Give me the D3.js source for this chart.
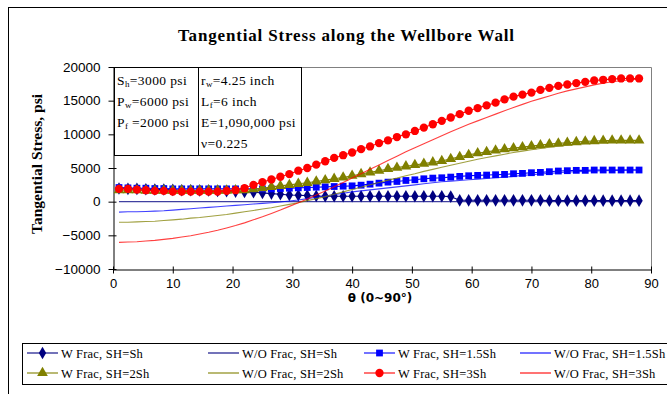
<!DOCTYPE html>
<html>
<head>
<meta charset="utf-8">
<script src="https://cdn.jsdelivr.net/npm/d3@7"></script>
<style>
  body { margin: 0; background: #fff; }
  svg { display: block; }
</style>
</head>
<body>
<div id="chart"></div>
<script>
// theta in degrees, stress in psi
const theta = [1,2.5,4,5.5,7,8.5,10,11.5,13,14.5,16,17.5,19,20.5,22,23.5,25,26.5,28,29.5,31,32.5,34,35.5,37,38.5,40,41.5,43,44.5,46,47.5,49,50.5,52,53.5,55,56.5,58,59.5,61,62.5,64,65.5,67,68.5,70,71.5,73,74.5,76,77.5,79,80.5,82,83.5,85,86.5,88];

const wFracSh = [1950,1900,1900,1850,1800,1800,1750,1700,1700,1650, 1650,1600,1550,1500,1450,1400,1300,1200,1100,1000, 950,900,850,800,800,800,800,800,800,800, 800,800,800,800,800,800,800,750,200,200, 200,200,200,200,200,200,200,200,150,150, 150,150,150,150,150,150,150,150,150];
const woFracSh = [0,0,0,0,0,0,0,0,0,0, 0,0,0,0,0,0,0,0,0,0, 0,0,0,0,0,0,0,0,0,0, 0,0,0,0,0,0,0,0,0,0, 0,0,0,0,0,0,0,0,0,0, 0,0,0,0,0,0,0,0,0];
const wFrac15 = [2100,2050,2000,2000,1950,1950,1900,1900,1900,1900, 1900,1900,1900,1900,1900,1900,1900,1900,1950,2000, 2050,2100,2150,2200,2250,2300,2350,2450,2600,2750, 2900,3000,3150,3250,3400,3500,3550,3650,3750,3850, 3900,3950,4000,4050,4150,4200,4300,4350,4450,4550, 4600,4650,4650,4700,4700,4700,4700,4700,4700];
const woFrac15 = [-1550,-1500,-1500,-1450,-1400,-1350,-1250,-1150,-1050,-950, -850,-750,-650,-550,-450,-350,-250,-150,-50,100, 250,450,650,850,1050,1250,1450,1600,1750,1900, 2050,2200,2350,2500,2650,2800,2950,3050,3150,3250, 3350,3450,3550,3650,3750,3900,4000,4100,4200,4300, 4400,4450,4500,4550,4600,4650,4650,4700,4700];
const wFrac2 = [1700,1700,1700,1650,1650,1650,1650,1650,1650,1650, 1650,1650,1650,1700,1700,1850,2000,2200,2350,2500, 2650,2800,3000,3200,3400,3600,3850,4100,4350,4600, 4850,5050,5250,5450,5650,5850,6050,6350,6650,6950, 7200,7400,7600,7800,7950,8100,8250,8400,8550,8650, 8750,8850,8950,9000,9050,9100,9100,9100,9100];
const woFrac2 = [-3050,-3050,-3000,-2950,-2900,-2800,-2700,-2600,-2450,-2350, -2200,-2050,-1900,-1700,-1500,-1300,-1100,-900,-650,-400, -150,150,450,750,1100,1450,1800,2150,2500,2850, 3200,3500,3850,4150,4500,4800,5100,5400,5700,6000, 6300,6550,6800,7050,7300,7500,7700,7900,8100,8250, 8400,8550,8650,8750,8850,8900,8950,9000,9000];
const wFrac3 = [1900,1900,1800,1700,1600,1600,1500,1500,1500,1500, 1500,1500,1600,1700,2000,2500,2900,3300,3700,4100, 4600,5000,5500,6000,6500,6900,7300,7800,8200,8700, 9100,9600,10000,10500,11000,11500,12000,12500,13000,13500, 13900,14300,14700,15200,15600,15900,16200,16600,16900,17200, 17400,17600,17800,18000,18100,18200,18300,18300,18300];
const woFrac3 = [-6050,-6000,-5950,-5850,-5750,-5600,-5450,-5250,-5050,-4800, -4550,-4250,-3900,-3550,-3150,-2700,-2250,-1750,-1250,-700, -150,400,1000,1600,2200,2850,3500,4150,4800,5450, 6100,6750,7400,8000,8600,9200,9800,10400,10950,11500, 12000,12500,13000,13500,14000,14450,14900,15300,15700,16100, 16450,16750,17050,17350,17600,17800,17950,18100,18200];

const seriesNames = ['W Frac, SH=Sh','W/O Frac, SH=Sh','W Frac, SH=1.5Sh','W/O Frac, SH=1.5Sh',
                     'W Frac, SH=2Sh','W/O Frac, SH=2Sh','W Frac, SH=3Sh','W/O Frac, SH=3Sh'];
const xTicks = [0,10,20,30,40,50,60,70,80,90];
const yTicks = [-10000,-5000,0,5000,10000,15000,20000];
const infoLeft = [['S','h','=3000 psi'],['P','w','=6000 psi'],['P','f',' =2000 psi']];
const infoRight = [['r','w','=4.25 inch'],['L','f','=6 inch'],['E','','=1,090,000 psi'],['\u03bd','','=0.225']];

const series = [
  {name: seriesNames[0], values: wFracSh,  color: '#000080', symbol: d3.symbolDiamond,  size: 46},
  {name: seriesNames[1], values: woFracSh, color: '#000080', symbol: null},
  {name: seriesNames[2], values: wFrac15,  color: '#0000ff', symbol: d3.symbolSquare,   size: 46},
  {name: seriesNames[3], values: woFrac15, color: '#0000ff', symbol: null},
  {name: seriesNames[4], values: wFrac2,   color: '#808000', symbol: d3.symbolTriangle, size: 50},
  {name: seriesNames[5], values: woFrac2,  color: '#808000', symbol: null},
  {name: seriesNames[6], values: wFrac3,   color: '#ff0000', symbol: d3.symbolCircle,   size: 54},
  {name: seriesNames[7], values: woFrac3,  color: '#ff0000', symbol: null}
];

const W = 667, H = 394;
const svg = d3.select('#chart').append('svg').attr('width', W).attr('height', H);
const serif = 'Liberation Serif, Times New Roman, serif';
const sans = 'Liberation Sans, Arial, sans-serif';

svg.append('rect').attr('width', W).attr('height', H).attr('fill', '#fff');
// outer chart border (runs off the right and bottom)
svg.append('rect').attr('x', 8.5).attr('y', 7.5).attr('width', 700).attr('height', 420)
   .attr('fill', 'none').attr('stroke', '#000');

const x = d3.scaleLinear().domain([0, 90]).range([113, 651]);
const y = d3.scaleLinear().domain([-10000, 20000]).range([269, 67]);

// plot area frame, grey on top and right
svg.append('path')
   .attr('d', `M${x(0)},${y(20000) + 0.5}H${x(90) + 0.5}V${y(-10000)}`)
   .attr('fill', 'none').attr('stroke', '#808080');

// title
svg.append('text').attr('x', 178).attr('y', 41)
   .attr('font-family', serif).attr('font-weight', 'bold').attr('font-size', 17)
   .attr('textLength', 336).attr('lengthAdjust', 'spacing')
   .text('Tangential Stress along the Wellbore Wall');

// y axis
const yAxis = svg.append('g').attr('transform', `translate(${x(0) + 0.5},0)`)
  .call(d3.axisLeft(y).tickValues(yTicks).tickSizeInner(5).tickSizeOuter(0).tickPadding(8).tickFormat(d3.format('d')));
yAxis.selectAll('.tick line').attr('x1', 3);
yAxis.selectAll('text').attr('font-family', sans).attr('font-size', 13.5).attr('fill', '#000');
yAxis.select('.domain').attr('stroke', '#000');

// x axis
const xAxis = svg.append('g').attr('transform', `translate(0,${y(-10000) + 0.5})`)
  .call(d3.axisBottom(x).tickValues(xTicks).tickSizeInner(4).tickSizeOuter(0).tickPadding(5));
xAxis.selectAll('.tick line').attr('y1', -3);
xAxis.selectAll('text').attr('font-family', sans).attr('font-size', 13).attr('fill', '#000');
xAxis.select('.domain').attr('stroke', '#000');

// axis titles
svg.append('text').attr('x', 380).attr('y', 302).attr('text-anchor', 'middle')
   .attr('font-family', 'DejaVu Sans, Verdana, sans-serif').attr('font-weight', 'bold').attr('font-size', 12)
   .text('\u03b8 (0~90\u00b0)');
svg.append('text').attr('transform', 'translate(42,164) rotate(-90)').attr('text-anchor', 'middle')
   .attr('font-family', serif).attr('font-weight', 'bold').attr('font-size', 15.5)
   .text('Tangential Stress, psi');

// series
const line = d3.line().x((d, i) => x(theta[i])).y(d => y(d));
const plot = svg.append('g');
series.forEach(s => {
  plot.append('path').datum(s.values).attr('d', line)
      .attr('fill', 'none').attr('stroke', s.color).attr('stroke-width', 1.1)
      .attr('stroke-opacity', s.symbol ? 1 : 0.75);
  if (s.symbol) {
    plot.append('g').selectAll('path').data(s.values).join('path')
        .attr('transform', (d, i) => `translate(${x(theta[i])},${y(d)})`)
        .attr('d', d3.symbol().type(s.symbol).size(s.size))
        .attr('fill', s.color);
  }
});

// parameter box
const box = svg.append('g');
box.append('rect').attr('x', 114.5).attr('y', 67.5).attr('width', 187).attr('height', 88)
   .attr('fill', '#fff').attr('stroke', '#000');
box.append('line').attr('x1', 198.5).attr('x2', 198.5).attr('y1', 67.5).attr('y2', 155.5).attr('stroke', '#000');
function infoText(rows, x0) {
  rows.forEach((r, i) => {
    const t = box.append('text').attr('x', x0).attr('y', 85 + i * 21)
      .attr('font-family', serif).attr('font-size', 13.5).attr('letter-spacing', 0.4);
    t.append('tspan').text(r[0]);
    if (r[1]) t.append('tspan').attr('font-size', 9).attr('dy', 2).text(r[1]);
    t.append('tspan').attr('dy', r[1] ? -2 : 0).text(r[2]);
  });
}
infoText(infoLeft, 117);
infoText(infoRight, 201);

// legend
const lg = svg.append('g');
lg.append('rect').attr('x', 22.5).attr('y', 343.5).attr('width', 700).attr('height', 41)
  .attr('fill', '#fff').attr('stroke', '#000');
const colX = [27, 208, 364, 520];
series.forEach((s, i) => {
  const cx = colX[i % 4], cy = i < 4 ? 353 : 373;
  lg.append('line').attr('x1', cx).attr('x2', cx + 31).attr('y1', cy).attr('y2', cy)
    .attr('stroke', s.color).attr('stroke-width', 1.1);
  if (s.symbol) {
    lg.append('path').attr('transform', `translate(${cx + 15.5},${cy})`)
      .attr('d', d3.symbol().type(s.symbol).size(s.size)).attr('fill', s.color);
  }
  lg.append('text').attr('x', cx + 34).attr('y', cy + 4.5)
    .attr('font-family', serif).attr('font-size', 12.5).attr('letter-spacing', 0.2).text(s.name);
});
</script>
</body>
</html>
